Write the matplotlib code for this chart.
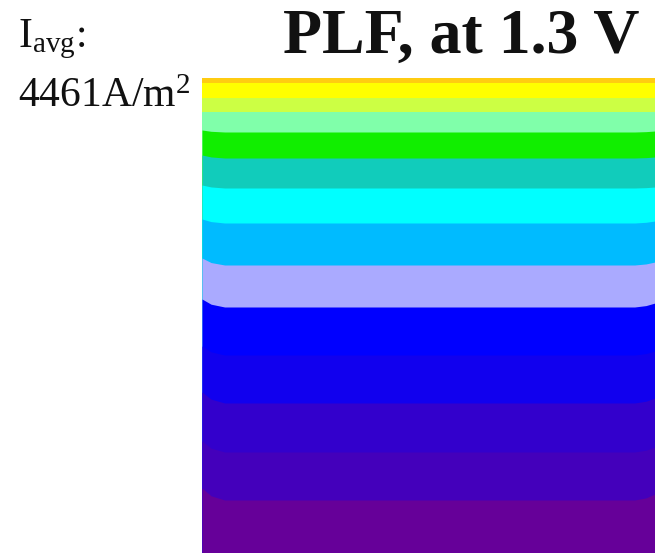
import matplotlib
matplotlib.use("Agg")
import matplotlib.pyplot as plt

plt.rcParams['font.family'] = ['Liberation Serif', 'DejaVu Serif']
plt.rcParams['mathtext.fontset'] = 'custom'
plt.rcParams['mathtext.rm'] = 'Liberation Serif'
plt.rcParams['mathtext.it'] = 'Liberation Serif:italic'

# ---- data (heights in px above the bottom of the map) ----
title = "PLF, at 1.3 V"
label_line1 = r"I$_{\mathrm{avg}}$:"
label_line2 = r"4461A/m$^{\mathrm{2}}$"

map_top = 475.5
# upper boundary of each band (bottom band first), in the centre of the map
band_upper_centre = [53, 101, 150, 198, 246, 288, 330, 365, 395, 421, 441, 455, 470, 475.5]
# how much higher each boundary sits at the left and right edges
band_rise_left = [12, 11, 11, 9, 8, 7, 4, 3, 3, 2, 0, 0, 0, 0]
band_rise_right = [6, 5, 5, 4, 4, 3, 2, 1, 1, 1, 0, 0, 0, 0]
band_colors = ["#660099", "#4400bb", "#3300cc", "#1100ee", "#0000ff", "#aaaaff",
               "#00bbff", "#00ffff", "#11ccbb", "#11ee00", "#80ffaa", "#ccff44",
               "#ffff00", "#ffcc11"]
# x nodes: left edge, bend points, right edge
x_nodes = [0.0, 0.02, 0.05, 0.955, 0.98, 1.0]

fig = plt.figure(figsize=(6.55, 5.53), dpi=100)
ax = fig.add_axes([202 / 655, 0.0, 453 / 655, 1 - 77.5 / 553])

n = len(band_colors)
for i in reversed(range(n)):
    c = band_upper_centre[i]
    rl, rr = band_rise_left[i], band_rise_right[i]
    upper = [c + rl, c + rl * 0.35, c, c, c + rr * 0.35, c + rr]
    upper = [min(u, map_top) for u in upper]
    ax.fill_between(x_nodes, 0, upper, color=band_colors[i], linewidth=0,
                    zorder=n - i)

ax.set_xlim(0, 1)
ax.set_ylim(0, map_top)
ax.axis('off')

fig.text(283 / 655, 1 - 53 / 553, title, fontsize=46, fontweight='bold',
         color='#111111', ha='left', va='baseline')
fig.text(18 / 655, 1 - 47 / 553, label_line1, fontsize=30, color='#111111',
         ha='left', va='baseline')
fig.text(18 / 655, 1 - 107 / 553, label_line2, fontsize=30, color='#111111',
         ha='left', va='baseline')

fig.savefig("out.png", dpi=100)
